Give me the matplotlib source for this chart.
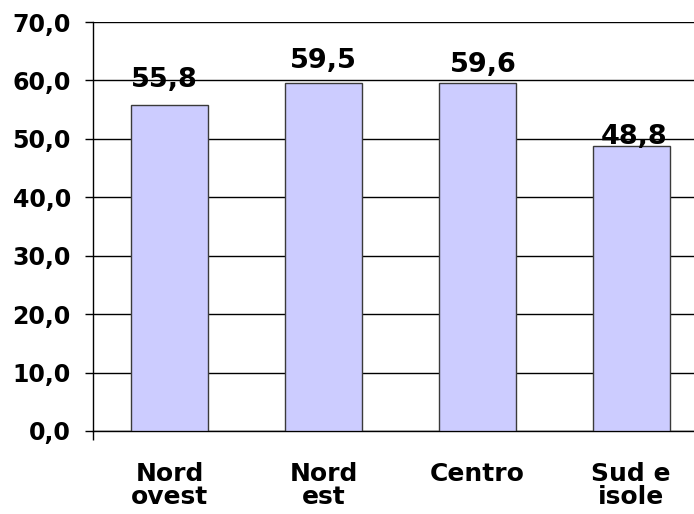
import matplotlib
matplotlib.use("Agg")
import matplotlib.pyplot as plt

categories = ["Nord\novest", "Nord\nest", "Centro", "Sud e\nisole"]
values = [55.8, 59.5, 59.6, 48.8]
value_labels = ["55,8", "59,5", "59,6", "48,8"]
yticks = [0, 10, 20, 30, 40, 50, 60, 70]
ytick_labels = ["0,0", "10,0", "20,0", "30,0", "40,0", "50,0", "60,0", "70,0"]

# label offsets in points (style only)
label_dx = [-4.3, 0.0, 4.0, 2.2]
label_dy = [13.0, 10.8, 7.9, 1.4]

plt.rcParams['font.family'] = ['DejaVu Sans']
fig = plt.figure(figsize=(6.94, 5.14), dpi=100)
ax = fig.add_axes([93/694, 83/514, 615/694, 409/514])

x = list(range(len(categories)))
ax.bar(x, values, width=0.5, color="#CCCCFF", edgecolor="#3a3a3a", linewidth=1.0, zorder=3)

ax.set_xlim(-0.5, 3.5)
ax.set_ylim(0, 70)
ax.set_yticks(yticks)
ax.set_yticklabels(ytick_labels, fontsize=17, fontweight='bold')
ax.yaxis.grid(True, color="#000000", linewidth=1.0, zorder=0)
ax.set_axisbelow(True)

ax.set_xticks(x)
ax.set_xticklabels(categories, fontsize=18, fontweight='bold', linespacing=0.95)
ax.tick_params(axis='x', length=0, pad=22)
ax.set_xticks([-0.5], minor=True)
ax.tick_params(axis='x', which='minor', length=6.5, width=1.0, color='black', direction='out')
ax.tick_params(axis='y', length=6, width=1.0, pad=10, color='black')

for s in ['top', 'right']:
    ax.spines[s].set_visible(False)
ax.spines['left'].set_linewidth(1.0)
ax.spines['bottom'].set_linewidth(1.0)

for i, (v, lab) in enumerate(zip(values, value_labels)):
    ax.annotate(lab, xy=(i, v), xytext=(label_dx[i], label_dy[i]), textcoords='offset points',
                ha='center', va='baseline', fontsize=19.5, fontweight='bold', zorder=5)

fig.savefig("out.png", dpi=100)
